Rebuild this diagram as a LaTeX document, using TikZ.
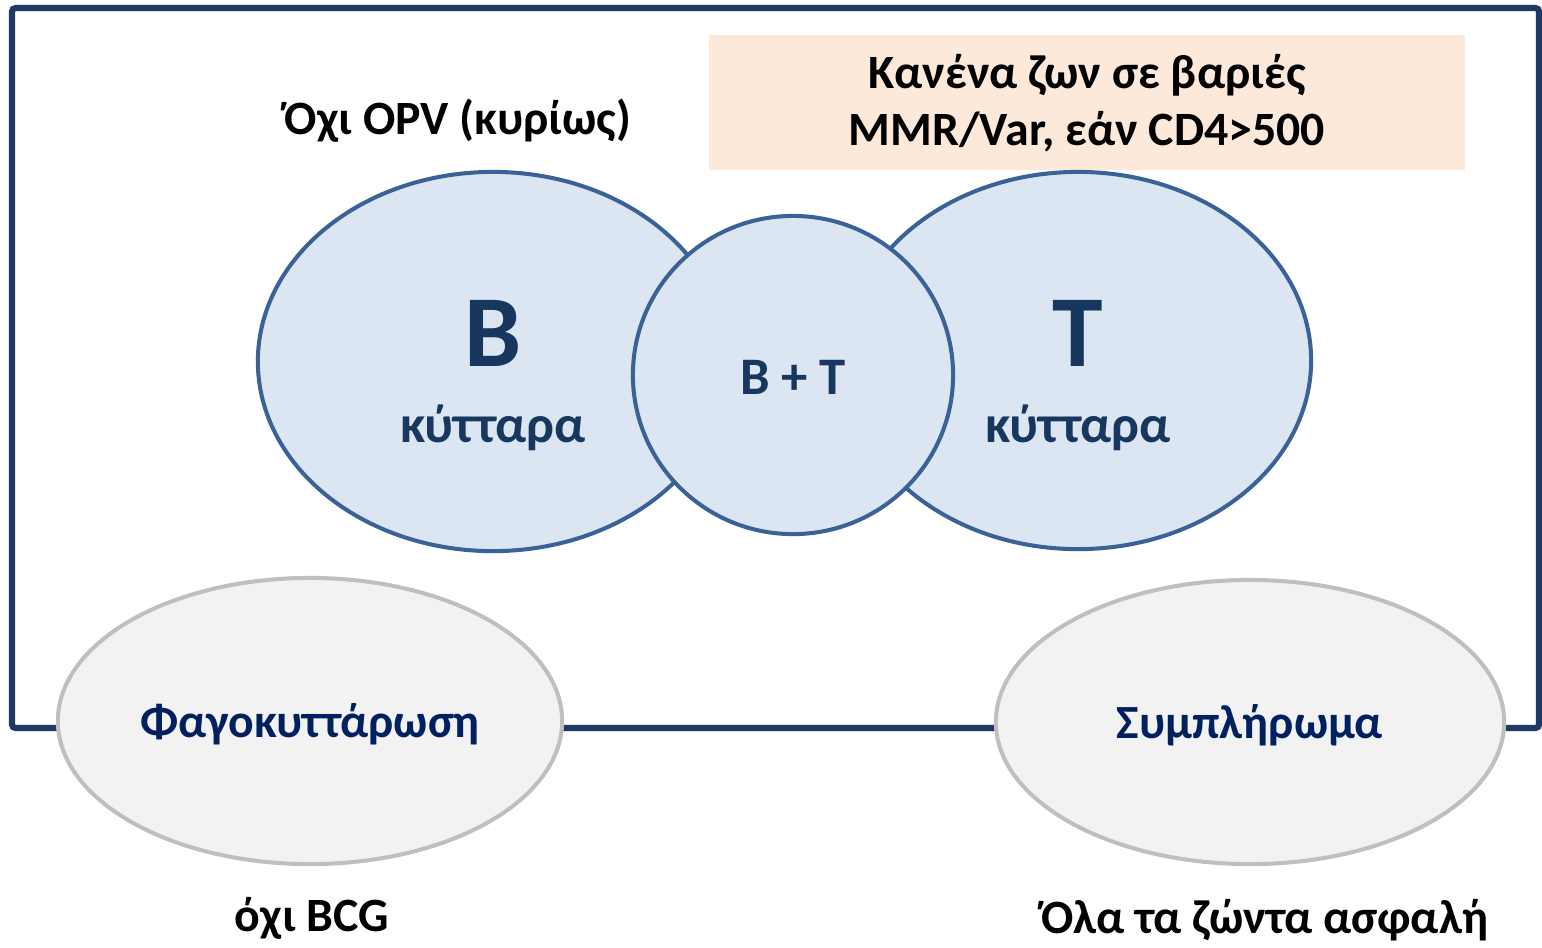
\documentclass[tikz,border=0pt]{standalone}
\usepackage{fontspec}
\setmainfont{Carlito}
\usetikzlibrary{shapes.geometric}
\definecolor{framenavy}{RGB}{31,56,100}
\definecolor{cellblue}{RGB}{58,98,150}
\definecolor{cellfill}{RGB}{220,230,242}
\definecolor{celltext}{RGB}{23,55,94}
\definecolor{innatefill}{RGB}{242,242,242}
\definecolor{innateline}{RGB}{191,191,191}
\definecolor{innatetext}{RGB}{0,32,96}
\definecolor{peach}{RGB}{253,233,217}
\tikzset{
  cell/.style={ellipse, draw=cellblue, fill=cellfill, line width=1.15pt, inner sep=0pt},
  innate/.style={ellipse, draw=innateline, fill=innatefill, line width=1.15pt, inner sep=0pt},
  innatelabel/.style={text=innatetext, font=\bfseries\fontsize{13.55}{16}\selectfont},
  note/.style={font=\bfseries\fontsize{13.6}{16.2}\selectfont, align=center},
  bigletter/.style={text=celltext, font=\bfseries\fontsize{29}{32}\selectfont},
  celllabel/.style={text=celltext, font=\bfseries\fontsize{15}{18}\selectfont}
}
\begin{document}
\begin{tikzpicture}[x=0.01cm, y=-0.01cm]
  \useasboundingbox (0,0) rectangle (1542,947);
  % outer frame
  \draw[framenavy, line width=1.75pt, rounded corners=1pt] (12,8) rectangle (1539,728);
  % warning box
  \node[fill=peach, inner sep=0pt, minimum width=7.56cm, minimum height=1.35cm] (warnbox) at (1087,102.5) {};
  \node[note] (warn) at (1087,103) {Κανένα ζων σε βαριές\\MMR/Var, εάν CD4>500};
  \node[note] (noopv) at (458,121) {Όχι OPV (κυρίως)};
  % lymphocytes
  \node[cell, minimum width=4.70cm, minimum height=3.79cm] (bcell) at (493,361.5) {};
  \node[cell, minimum width=4.66cm, minimum height=3.77cm] (tcell) at (1078,360.5) {};
  \node[cell, minimum width=3.20cm, minimum height=3.18cm] (btcell) at (793,375) {};
  \node[bigletter] (blabel) at (493,333) {B};
  \node[celllabel] (bkyt) at (493,428) {κύτταρα};
  \node[bigletter] (tlabel) at (1078,333) {T};
  \node[celllabel] (tkyt) at (1078,428) {κύτταρα};
  \node[celllabel] (btlabel) at (793,377) {B + T};
  % innate
  \node[innate, minimum width=5.04cm, minimum height=2.86cm] (phago) at (310,721) {};
  \node[innatelabel] (phagolabel) at (310,724) {Φαγοκυττάρωση};
  \node[innate, minimum width=5.08cm, minimum height=2.84cm] (compl) at (1250,722) {};
  \node[innatelabel] (compllabel) at (1250,725) {Συμπλήρωμα};
  \node[note] (nobcg) at (312,918) {όχι BCG};
  \node[note] (allsafe) at (1265,920) {Όλα τα ζώντα ασφαλή};
\end{tikzpicture}
\end{document}
